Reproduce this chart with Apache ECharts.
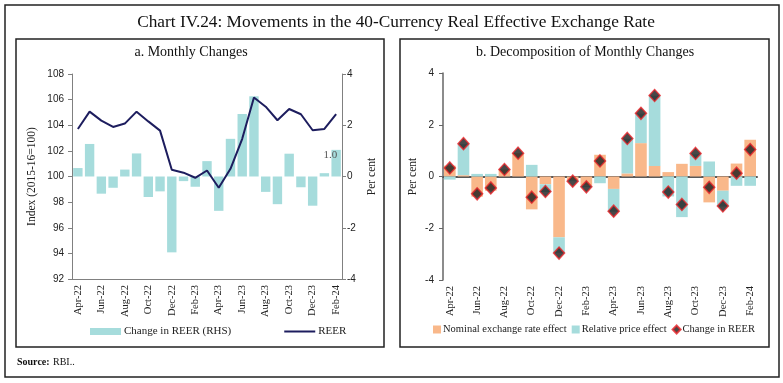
<!DOCTYPE html>
<html>
<head>
<meta charset="utf-8">
<script src="https://cdn.jsdelivr.net/npm/echarts@6/dist/echarts.min.js"></script>
<style>
html,body{margin:0;padding:0;background:#fff;}
#chart{width:783px;height:383px;}
</style>
</head>
<body>
<div id="chart"></div>
<script>
const months = ['Apr-22','May-22','Jun-22','Jul-22','Aug-22','Sep-22','Oct-22','Nov-22','Dec-22','Jan-23','Feb-23','Mar-23','Apr-23','May-23','Jun-23','Jul-23','Aug-23','Sep-23','Oct-23','Nov-23','Dec-23','Jan-24','Feb-24'];
const reerIndex = [103.71,105.06,104.36,103.87,104.13,105.06,104.3,103.58,100.52,100.3,99.9,100.47,99.12,100.6,102.94,106.16,105.45,104.39,105.27,104.86,103.61,103.71,104.86];
const reerChange = [0.33,1.27,-0.67,-0.44,0.27,0.9,-0.8,-0.58,-2.96,-0.18,-0.4,0.6,-1.34,1.47,2.44,3.13,-0.6,-1.08,0.89,-0.42,-1.14,0.13,1.04];
const nominalEffect = [0.42,0.05,-0.78,-0.55,0.27,0.9,-1.27,-0.3,-2.35,-0.14,-0.35,0.84,-0.48,0.12,1.29,0.41,0.17,0.49,0.41,-1.0,-0.55,0.5,1.42];
const relativePriceEffect = [-0.12,1.2,0.1,0.1,0,0,0.45,-0.3,-0.6,-0.04,-0.06,-0.26,-0.88,1.34,1.14,2.71,-0.77,-1.57,0.45,0.58,-0.61,-0.36,-0.36];
const leftTicks = [92,108,2];
const pctTicks = [-4,4,2];

const serif = "'Liberation Serif', serif";
const sans = "'Liberation Sans', sans-serif";
const axisCol = '#808080';
const teal = '#a6dcdc';
const orange = '#f9b88a';
const navy = '#1d1d5e';

const chart = echarts.init(document.getElementById('chart'));

const xLabel = {rotate: 90, fontFamily: serif, fontSize: 10.5, color: '#222', interval: 1, margin: 6};
const yLabel = {fontFamily: sans, fontSize: 10, color: '#222'};

chart.setOption({
  animation: false,
  grid: [
    {left: 72, top: 74, width: 270, height: 205},
    {left: 443, top: 73, width: 314, height: 207}
  ],
  legend: [
    {
      left: 85, top: 321, itemWidth: 31, itemHeight: 7, itemGap: 52,
      textStyle: {fontFamily: serif, fontSize: 11, color: '#222', padding: [0,0,0,-2]},
      data: [{name: 'Change in REER (RHS)', icon: 'rect'}, {name: 'REER', itemStyle: {opacity: 0}}]
    },
    {
      left: 428, top: 319, itemWidth: 8, itemHeight: 8, itemGap: 5,
      textStyle: {fontFamily: serif, fontSize: 10.5, color: '#222', padding: [0,0,0,-3]},
      data: [{name: 'Nominal exchange rate effect', icon: 'rect'}, {name: 'Relative price effect', icon: 'rect'}, {name: 'Change in REER'}]
    }
  ],
  xAxis: [
    {gridIndex: 0, type: 'category', data: months, position: 'bottom',
     axisLine: {onZero: false, lineStyle: {color: axisCol}},
     axisTick: {interval: 1, length: 4, lineStyle: {color: axisCol}},
     axisLabel: xLabel},
    {gridIndex: 1, type: 'category', data: months, position: 'bottom',
     axisLine: {show: false, onZero: false}, axisTick: {show: false},
     axisLabel: xLabel},
    {gridIndex: 1, type: 'category', data: months, position: 'bottom',
     axisLine: {onZero: true, lineStyle: {color: '#595959', width: 2}},
     axisTick: {interval: 1, length: 4, lineStyle: {color: '#595959', width: 1.5}},
     axisLabel: {show: false}}
  ],
  yAxis: [
    {gridIndex: 0, type: 'value', min: leftTicks[0], max: leftTicks[1], interval: leftTicks[2], position: 'left',
     name: 'Index (2015-16=100)', nameLocation: 'middle', nameGap: 34, nameRotate: 90,
     nameTextStyle: {fontFamily: serif, fontSize: 11.5, color: '#222'},
     axisLine: {show: true, lineStyle: {color: axisCol}},
     axisTick: {show: true, length: 4, lineStyle: {color: axisCol}},
     splitLine: {show: false}, axisLabel: Object.assign({margin: 8}, yLabel)},
    {gridIndex: 0, type: 'value', min: pctTicks[0], max: pctTicks[1], interval: pctTicks[2], position: 'right',
     name: 'Per cent', nameLocation: 'middle', nameGap: 24, nameRotate: 90,
     nameTextStyle: {fontFamily: serif, fontSize: 11.5, color: '#222'},
     axisLine: {show: true, lineStyle: {color: axisCol}},
     axisTick: {show: true, length: 4, lineStyle: {color: axisCol}},
     splitLine: {show: false}, axisLabel: Object.assign({margin: 5}, yLabel)},
    {gridIndex: 1, type: 'value', min: pctTicks[0], max: pctTicks[1], interval: pctTicks[2], position: 'left',
     name: 'Per cent', nameLocation: 'middle', nameGap: 24, nameRotate: 90,
     nameTextStyle: {fontFamily: serif, fontSize: 11.5, color: '#222'},
     axisLine: {show: true, lineStyle: {color: '#666', width: 1.5}},
     axisTick: {show: true, length: 4, lineStyle: {color: '#666'}},
     splitLine: {show: false}, axisLabel: Object.assign({margin: 9}, yLabel)}
  ],
  series: [
    {name: 'Change in REER (RHS)', type: 'bar', xAxisIndex: 0, yAxisIndex: 1, data: reerChange.map((v, i) => i === reerChange.length - 1 ? {value: v, label: {show: true, formatter: (p) => p.value.toFixed(1), position: [-1, 0], align: 'center', verticalAlign: 'top', fontFamily: serif, fontSize: 11, color: '#555'}} : v),
     barWidth: '80%', itemStyle: {color: teal}, z: 1},
    {name: 'REER', type: 'line', xAxisIndex: 0, yAxisIndex: 0, data: reerIndex, symbol: 'none',
     lineStyle: {color: navy, width: 2}, itemStyle: {color: navy}, z: 3},
    {name: 'Nominal exchange rate effect', type: 'bar', stack: 'dec', xAxisIndex: 1, yAxisIndex: 2, data: nominalEffect,
     barWidth: '85%', itemStyle: {color: orange}},
    {name: 'Relative price effect', type: 'bar', stack: 'dec', xAxisIndex: 1, yAxisIndex: 2, data: relativePriceEffect,
     barWidth: '85%', itemStyle: {color: teal}},
    {name: 'Change in REER', type: 'scatter', xAxisIndex: 1, yAxisIndex: 2, data: reerChange,
     symbol: 'diamond', symbolSize: [11, 12],
     itemStyle: {color: '#1a1a1a', borderColor: '#e8262a', borderWidth: 1.5}, z: 5}
  ],
  graphic: [
    {type: 'rect', shape: {x: 5, y: 5, width: 774, height: 372}, style: {fill: 'none', stroke: '#222', lineWidth: 1.5}, silent: true},
    {type: 'rect', shape: {x: 16, y: 39, width: 368, height: 308}, style: {fill: 'none', stroke: '#222', lineWidth: 1.5}, silent: true},
    {type: 'rect', shape: {x: 400, y: 39, width: 369, height: 308}, style: {fill: 'none', stroke: '#222', lineWidth: 1.5}, silent: true},
    {type: 'text', x: 396, y: 22, style: {text: 'Chart IV.24: Movements in the 40-Currency Real Effective Exchange Rate', font: "17.3px 'Liberation Serif'", fill: '#111', textAlign: 'center', textVerticalAlign: 'middle'}},
    {type: 'text', x: 191, y: 52, style: {text: 'a. Monthly Changes', font: "14px 'Liberation Serif'", fill: '#111', textAlign: 'center', textVerticalAlign: 'middle'}},
    {type: 'text', x: 585, y: 52, style: {text: 'b. Decomposition of Monthly Changes', font: "14px 'Liberation Serif'", fill: '#111', textAlign: 'center', textVerticalAlign: 'middle'}},
    {type: 'text', x: 17, y: 362, style: {text: 'Source:', font: "bold 10px 'Liberation Serif'", fill: '#111', textAlign: 'left', textVerticalAlign: 'middle'}},
    {type: 'text', x: 53, y: 362, style: {text: 'RBI..', font: "10px 'Liberation Serif'", fill: '#111', textAlign: 'left', textVerticalAlign: 'middle'}}
  ]
});
</script>
</body>
</html>
